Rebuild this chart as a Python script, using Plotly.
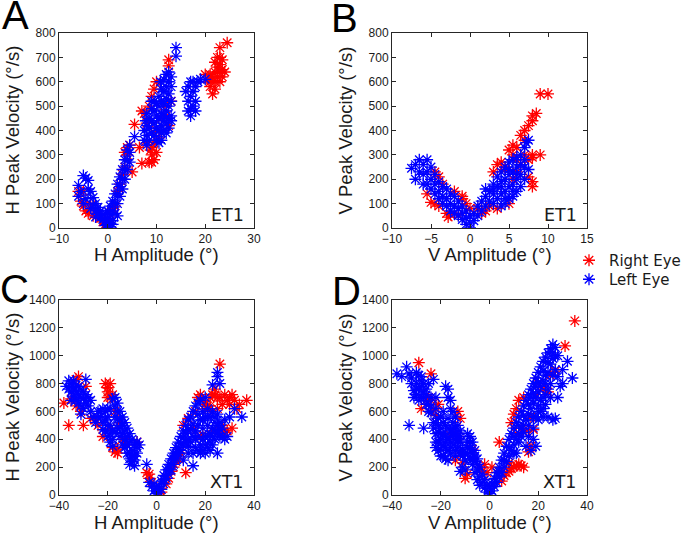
import plotly.graph_objects as go

# ---------------- data (amplitude deg, peak velocity deg/s) ----------------
A_RIGHT = [(-6,150),(-5.5,110),(-5,90),(-4.5,70),(-4,60),(-3,50),(-2.5,60),(-2,55),(-1.5,40),(-1,25),(0,10),(-0.5,15),(0,35),(-3.5,95),(-5,150),
    (1.5,90),(2,150),(2.5,180),(3,220),(3.5,250),(4,300),(4.5,340),(4,330),(3.5,310),(5.5,425),(5,230),(1,80),(0.5,30),
    (6.5,330),(7,480),(7.5,470),(8,430),(8.5,500),(9,540),(9.5,570),(9,300),(9.5,280),(9,270),(10,310),(9,330),(9.5,350),(8.8,320),(7,265),(8.5,270),
    (12.5,690),(12.5,665),(10,600),(12,460),(11,450),(10,400),(13,520),(11.5,500),(8,350),(10.5,370),(12.5,420),
    (20,630),(20.5,610),(21,600),(21,580),(21.5,550),(21.5,620),(22,600),(22,640),(22.5,660),(22.5,700),(23,700),(23,740),(23,670),(23.5,690),
    (23.5,650),(22.5,620),(23,600),(23.5,620),(24,640),(22,570),(24.5,760),(22,680),(23,640),(21,630)]
A_LEFT = [(-6,175),(-6,130),(-5.5,150),(-5,215),(-4.5,205),(-4,195),(-4,160),(-3.5,150),(-4.5,120),(-5,100),(-3,125),(-3,95),(-3.5,80),(-2.5,100),
    (-2.5,70),(-2,85),(-2,60),(-1.5,70),(-1.5,45),(-1,55),(-1,35),(-0.5,60),(-0.5,30),(-2.5,45),
    (0,15),(0,40),(0,70),(0.5,20),(0.5,55),(0.5,90),(1,30),(1,70),(1,110),(1.5,60),(1.5,100),(1.5,140),(2,100),(2,140),(2,180),(2.5,130),(2.5,170),
    (2.5,210),(3,160),(3,200),(3,240),(3.5,200),(3.5,240),(3.5,280),(4,240),(4,280),(4,320),(4.5,270),(4.5,310),(4.5,340),(1,15),(0.5,5),(-0.5,10),(2,50),
    (5.5,375),
    (7.5,360),(7.5,400),(8,340),(8,380),(8,420),(8.5,360),(8.5,410),(8.5,450),(9,390),(9,440),(9,490),(9.5,380),(9.5,430),(9.5,480),(9.5,520),
    (10,360),(10,410),(10,460),(10,510),(10.5,350),(10.5,400),(10.5,450),(10.5,500),(10.5,540),(11,360),(11,420),(11,470),(11,520),(11,570),
    (11.5,400),(11.5,460),(11.5,510),(11.5,560),(11.5,610),(12,430),(12,480),(12,530),(12,580),(12,630),(12.5,450),(12.5,500),(12.5,550),
    (12.5,600),(12.5,640),(13,460),(13,520),(13,580),(13,620),(8,470),(9,520),(7.8,440),(14,740),(14,705),(10.8,600),
    (11.5,440),(12,390),(12.5,410),(11,390),(13,440),
    (16,560),(16.5,580),(16.5,520),(17,540),(17,490),(17,460),(17.5,500),(17.5,560),(17.5,600),(18,580),(18.5,600),(19,610),(16.5,480),(17,600),
    (20,610),(18,520),(18,480)]

B_RIGHT = [(-5.5,140),(-5,105),(-4.5,230),(-4,210),(-3,60),(-2.5,55),(-2,150),(-1,130),(-0.5,100),(-3.5,180),(-4.5,100),(-1.5,55),(0,80),
    (-2.8,45),(-4,90),(-1,120),
    (1,80),(1.5,60),(2,70),(2.5,90),(3,230),(3.5,260),(4,270),(4.5,250),(5,320),(5.5,340),(5.5,300),(6,280),(6,330),(6.5,380),(7,400),(7,360),
    (7.5,420),(8,440),(8,460),(8.5,470),(9,550),(10,550),(9,300),(8,290),(8,300),(8,170),(8,190),(7.5,210),(7.5,280),(5,100),(6,230),(7,300),
    (4.5,240),(5.5,200),(3.5,80),(6.5,260)]
B_LEFT = [(-7.5,245),(-7,200),(-7,260),(-6.5,280),(-6.5,230),(-6,260),(-6,220),(-6,180),(-5.5,280),(-5.5,230),(-5.5,180),(-5,250),(-5,200),
    (-5,160),(-4.5,220),(-4.5,180),(-4.5,140),(-4,190),(-4,150),(-4,120),(-3.5,170),(-3.5,130),(-3.5,100),(-3,160),(-3,120),(-3,90),(-2.5,140),
    (-2.5,100),(-2.5,70),(-2,130),(-2,90),(-2,60),(-1.5,110),(-1.5,80),(-1.5,50),(-1,90),(-1,60),(-1,35),(-0.5,70),(-0.5,40),(-0.5,15),(0,50),
    (0,20),(0,0),
    (0.5,30),(0.5,60),(1,50),(1,90),(1.5,70),(1.5,110),(2,90),(2,130),(2,160),(2.5,110),(2.5,150),(3,100),(3,140),(3,180),(3.5,120),(3.5,170),
    (3.5,210),(4,90),(4,140),(4,190),(4,230),(4.5,100),(4.5,150),(4.5,200),(4.5,250),(5,120),(5,170),(5,220),(5,270),(5.5,130),(5.5,180),
    (5.5,230),(5.5,280),(6,150),(6,200),(6,250),(6,290),(6.5,170),(6.5,220),(6.5,300),(7,200),(7,250),(7,330),(7.5,240),(7.5,360),(7.2,350),
    (3,160),(4,170),(5,240),(6,220),(6.5,260),(7,280),(5.5,150),(4.5,120)]

C_RIGHT = [(-38,660),(-36,500),(-30,500),(-33,830),(-31,600),(-27,550),(-35,690),(-29,780),(-33,640),(-32,850),
    (-21,800),(-20,770),(-19,800),(-20,740),(-18,720),(-19,700),(-20,700),(-22,420),(-19,480),(-17,310),(-16,300),(-16,330),(-14,400),
    (-12,360),(-25,540),(-24,500),(-18,340),(-17,600),(-15,520),(-13,380),(-8,380),
    (-4,160),(-3,120),(-2,90),(-3,150),(2,20),(1,10),(4,80),(5,120),(6,170),(7,200),(8,240),(8,280),(9,260),(10,300),(12,160),(11,500),(13,550),
    (15,480),(16,600),(17,700),(18,720),(19,680),(20,650),(21,640),(22,700),(23,720),(24,720),(24,760),(26,940),(26,700),(27,650),(28,720),
    (29,680),(30,700),(31,720),(32,680),(33,620),(34,650),(37,680),(29,460),(31,480),(25,620),(28,450),(19,430),(23,460),(30,650),(27,500),
    (22,640),(25,700),(18,420),(21,610)]
C_LEFT = [(-37,780),(-36,820),(-36,760),(-35,800),(-35,740),(-34,820),(-34,770),(-34,710),(-33,790),(-33,740),(-33,680),(-32,780),(-32,720),
    (-32,660),(-31,760),(-31,700),(-31,640),(-30,740),(-30,690),(-30,620),(-29,720),(-29,660),(-29,830),(-28,700),(-28,640),(-27,680),(-31,580),
    (-27,600),(-35,680),
    (-26,560),(-25,520),(-24,600),(-23,560),(-22,620),(-22,520),(-21,460),(-21,600),(-20,500),(-20,420),(-19,440),(-19,380),(-18,690),(-18,400),
    (-17,700),(-17,640),(-16,660),(-16,600),(-16,540),(-15,600),(-15,540),(-15,480),(-14,560),(-14,500),(-14,440),(-13,520),(-13,460),(-13,400),
    (-12,480),(-12,420),(-12,360),(-11,440),(-11,380),(-11,300),(-10,400),(-10,320),(-10,240),(-9,360),(-9,280),(-9,210),(-8,380),(-8,300),
    (-7,360),(-11,220),(-18,350),(-20,560),
    (-23,600),(-21,540),(-19,500),(-17,560),(-15,420),(-13,340),(-11,260),(-17,450),(-16,480),(-14,360),(-12,300),(-10,280),(-9,250),(-8,340),
    (-18,460),(-19,620),(-20,620),(-24,560),(-22,470),
    (-4,220),(-3,90),(-2,60),(-1,30),(-1,80),(0,10),(0,50),(1,20),(1,60),(2,40),(2,100),(3,80),(3,140),(4,120),(4,180),(5,150),(5,220),(6,180),
    (6,260),(7,220),(7,300),(8,260),(8,340),(9,300),(9,380),(10,320),(10,420),(11,360),(11,460),(12,380),(12,500),(13,400),(13,540),(14,380),
    (14,560),(15,210),(15,420),(15,600),(16,340),(16,460),(16,640),(17,320),(17,500),(17,660),(18,300),(18,540),(18,680),(19,320),(19,480),
    (19,600),(20,300),(20,420),(20,560),(20,700),(21,340),(21,500),(21,620),(22,320),(22,440),(22,560),(23,360),(23,480),(23,600),(24,400),
    (24,520),(24,560),(25,300),(25,440),(25,580),(26,420),(26,520),(27,480),(28,400),(28,540),(29,420),(26,800),(23,790),(25,850),(25,880),
    (35,560),(30,560),(32,620),(11,250),(13,300),
    (3,110),(5,185),(7,260),(9,340),(11,410),(13,470),(15,510),(17,580),(19,540),(21,420),(23,420),(25,500),(27,420),(14,470),(16,400),
    (18,360),(20,360),(22,380),(24,460),(26,470),(12,440),(10,370),(8,300),(6,220),(21,560),(19,400),(17,420),(15,300),(13,350)]

D_RIGHT = [(-29,950),(-28,620),(-25,700),(-24,870),(-22,570),(-21,650),(-26,680),(-23,610),(-24,680),
    (-13,600),(-12,550),(-13,420),(-12,300),(-11,230),(-10,120),(-9,150),(-7,330),(-16,430),(-14,250),
    (-4,200),(-2,220),(-1,160),(-3,170),(1,200),
    (4,380),(6,140),(7,160),(8,170),(9,190),(10,200),(11,210),(12,220),(13,210),(14,200),(16,310),(17,350),(18,470),(9,520),(10,580),(11,620),
    (12,680),(14,700),(19,720),(24,740),(27,890),(31,1070),(35,1250),(20,800),(15,460),(11,440),(8,230),(5,100),(25,860),(22,760),(17,560),
    (13,480)]
D_LEFT = [(-38,870),(-36,850),(-34,920),(-33,870),(-32,800),(-31,750),(-31,700),(-30,880),(-30,800),(-30,720),(-29,860),(-29,760),(-29,680),
    (-28,850),(-28,780),(-28,700),(-27,800),(-27,740),(-26,720),(-26,650),(-25,800),(-25,650),(-25,600),(-24,590),(-24,700),(-23,830),(-22,700),
    (-22,620),(-33,500),(-27,480),
    (-23,480),(-22,520),(-22,440),(-22,380),(-21,500),(-21,450),(-21,380),(-21,320),(-20,560),(-20,480),(-20,400),(-20,330),(-20,280),(-19,520),
    (-19,440),(-19,360),(-19,280),(-18,780),(-18,500),(-18,420),(-18,340),(-18,260),(-17,760),(-17,700),(-17,480),(-17,400),(-17,320),(-17,250),
    (-16,680),(-16,620),(-16,460),(-16,380),(-16,300),(-15,600),(-15,520),(-15,440),(-15,360),(-14,560),(-14,480),(-14,400),(-14,320),(-13,500),
    (-13,420),(-13,340),(-12,460),(-12,380),(-12,300),(-12,170),(-11,280),(-11,200),(-10,250),(-10,180),(-9,440),(-9,380),(-9,300),(-8,420),
    (-8,340),(-8,260),(-7,380),(-7,300),(-7,220),(-6,320),(-6,240),(-6,160),(-5,260),(-5,180),(-5,110),(-4,200),(-4,130),(-4,70),(-3,150),
    (-3,90),(-2,110),(-2,50),(-1,70),(-1,20),(0,10),(0,50),
    (-23,520),(-21,550),(-19,600),(-17,550),(-15,480),(-13,380),(-11,330),(-9,340),(-7,260),(-5,220),(-22,340),(-20,440),(-18,380),(-16,420),
    (-14,440),(-12,420),(-10,300),(-8,380),(-6,280),(-16,340),(-14,280),(-24,640),(-26,760),(-28,820),(-30,760),(-32,840),(-27,700),
    (1,30),(1,80),(2,60),(2,120),(3,90),(3,160),(4,130),(4,200),(5,160),(5,250),(6,200),(6,300),(7,240),(7,350),(8,280),(8,400),(9,320),(9,440),
    (10,360),(10,480),(11,300),(11,400),(11,520),(12,440),(12,560),(13,420),(13,480),(13,600),(14,500),(14,640),(15,350),(15,540),(15,680),
    (16,580),(16,720),(17,320),(17,620),(17,760),(18,400),(18,660),(18,800),(19,350),(19,560),(19,700),(19,840),(20,540),(20,740),(20,880),
    (21,600),(21,780),(21,920),(22,620),(22,820),(22,960),(23,720),(23,860),(23,990),(24,560),(24,880),(24,1020),(25,940),(25,1050),(26,540),
    (26,980),(26,1080),(27,550),(27,1060),(28,700),(28,1000),(30,800),(30,900),(32,960),(34,840),(29,780),(25,800),(23,650),
    (2,90),(4,165),(6,250),(8,340),(10,420),(12,500),(14,570),(16,650),(18,730),(20,810),(22,890),(24,950),(26,1020),(14,450),(16,500),
    (18,560),(20,640),(22,700),(24,760),(26,860),(12,380),(10,300),(16,420),(18,480),(20,600),(22,560),(25,700),(27,1000),(27,900),(28,850),
    (21,680),(23,800),(19,780),(17,700)]

SERIES_NAMES = ["Right Eye", "Left Eye"]
PANEL_LETTERS = ["A", "B", "C", "D"]
PANEL_TAGS = ["ET1", "ET1", "XT1", "XT1"]
X_TITLES = ["H Amplitude (°)", "V Amplitude (°)", "H Amplitude (°)", "V Amplitude (°)"]
Y_TITLES = ["H Peak Velocity (°/s)", "V Peak Velocity (°/s)", "H Peak Velocity (°/s)", "V Peak Velocity (°/s)"]
X_RANGES = [(-10, 30), (-10, 15), (-40, 40), (-40, 40)]
X_DTICKS = [10, 5, 20, 20]
Y_RANGES = [(0, 800), (0, 800), (0, 1400), (0, 1400)]
Y_DTICKS = [100, 100, 200, 200]

# ---------------- layout geometry ----------------
W, H = 686, 533
COLS = [(59, 254), (392, 587)]
ROWS = [(33, 228), (300, 495)]
LETTER_POS = [(1, -8), (330, -5), (-1, 266), (331, 268)]
RED, BLUE = "#ff0000", "#0000ff"
AX = "#262626"
TXT = "#1a1a1a"

fig = go.Figure()
panels = [(A_RIGHT, A_LEFT), (B_RIGHT, B_LEFT), (C_RIGHT, C_LEFT), (D_RIGHT, D_LEFT)]
for i, (right, left) in enumerate(panels):
    xa = "x" if i == 0 else f"x{i+1}"
    ya = "y" if i == 0 else f"y{i+1}"
    for k, (pts, col, nm) in enumerate(((right, RED, SERIES_NAMES[0]), (left, BLUE, SERIES_NAMES[1]))):
        fig.add_trace(go.Scatter(
            x=[p[0] for p in pts], y=[p[1] for p in pts], mode="markers", name=nm,
            xaxis=xa, yaxis=ya, showlegend=(i == 0), legend=("legend" if k == 0 else "legend2"),
            marker=dict(symbol="asterisk-open", size=10, color=col,
                        line=dict(color=col, width=1.3))))

annotations = []
for i in range(4):
    r, c = divmod(i, 2)
    x0, x1 = COLS[c]
    y0, y1 = ROWS[r]
    axstyle = dict(showline=True, mirror="allticks", ticks="inside", ticklen=4, automargin=False,
                   linecolor=AX, tickcolor=AX, linewidth=1, showgrid=False, zeroline=False,
                   tickfont=dict(family="Liberation Sans", size=12, color=TXT))
    suffix = "" if i == 0 else str(i + 1)
    fig.layout["xaxis" + suffix] = dict(domain=[x0 / W, x1 / W], range=list(X_RANGES[i]),
                                        dtick=X_DTICKS[i], anchor="y" + suffix, **axstyle)
    fig.layout["yaxis" + suffix] = dict(domain=[1 - y1 / H, 1 - y0 / H], range=list(Y_RANGES[i]),
                                        dtick=Y_DTICKS[i], anchor="x" + suffix, **axstyle)
    annotations.append(dict(text=X_TITLES[i], xref="paper", yref="paper", x=(x0 + x1) / 2 / W,
                            y=1 - (y1 + 27) / H, xanchor="center", yanchor="middle", showarrow=False,
                            font=dict(family="Liberation Sans", size=18.5, color=TXT)))
    annotations.append(dict(text=Y_TITLES[i], xref="paper", yref="paper", x=(x0 - 47) / W,
                            y=1 - (y0 + y1) / 2 / H, xanchor="center", yanchor="middle", showarrow=False,
                            textangle=-90, font=dict(family="Liberation Sans", size=18.5, color=TXT)))
    annotations.append(dict(text=PANEL_TAGS[i], xref="paper", yref="paper", x=(x1 - 8) / W,
                            y=1 - (y1 - 1) / H, xanchor="right", yanchor="bottom", showarrow=False,
                            font=dict(family="DejaVu Sans", size=17.5, color=TXT)))
    lx, ly = LETTER_POS[i]
    annotations.append(dict(text=PANEL_LETTERS[i], xref="paper", yref="paper", x=lx / W, y=1 - ly / H,
                            xanchor="left", yanchor="top", showarrow=False, borderpad=0,
                            font=dict(family="Liberation Sans", size=40, color="#000000")))

leg = dict(xanchor="left", yanchor="top", bgcolor="rgba(0,0,0,0)",
           font=dict(family="DejaVu Sans", size=15, color=TXT), itemwidth=30, borderwidth=0)
fig.update_layout(
    template="none",
    width=W, height=H, margin=dict(l=0, r=0, t=0, b=0, autoexpand=False),
    paper_bgcolor="white", plot_bgcolor="white",
    annotations=annotations,
    legend=dict(x=569 / W, y=1 - 244 / H, **leg),
    legend2=dict(x=569 / W, y=1 - 263 / H, **leg),
)

fig.write_html("out.html", config={"displayModeBar": False},
               post_script="document.body.style.margin='0';document.body.style.padding='0';")
